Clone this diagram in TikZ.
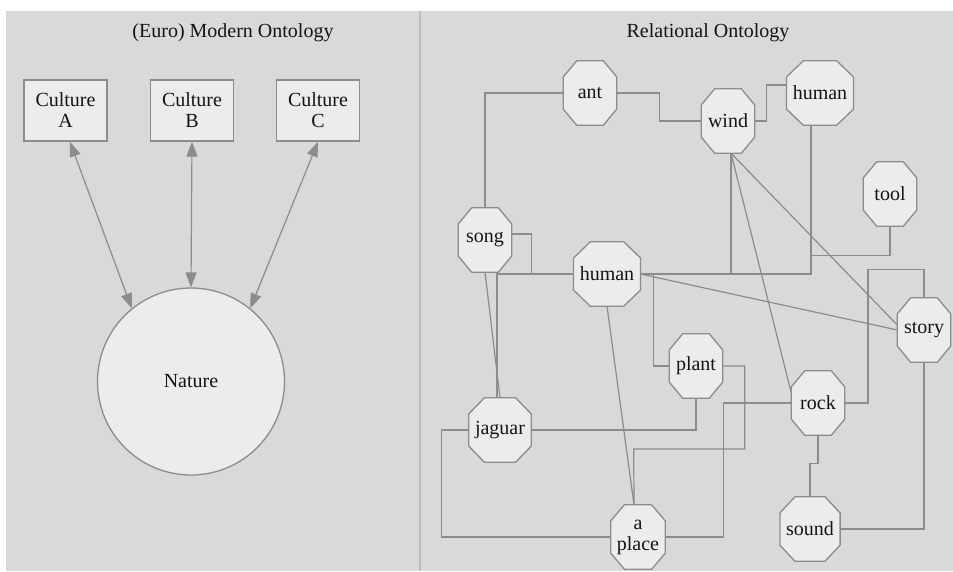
\documentclass[tikz,border=0pt]{standalone}
\usepackage{fontspec}
\setmainfont{Liberation Serif}
\usepackage{tikz}
\usetikzlibrary{calc,backgrounds,arrows.meta}

\definecolor{panelgray}{RGB}{217,217,217}
\definecolor{boxfill}{RGB}{236,236,236}
\definecolor{edgegray}{RGB}{140,140,140}
\definecolor{rulegray}{RGB}{188,188,188}

\tikzset{
  culture/.style={draw=edgegray, fill=boxfill, line width=1.3pt, minimum width=83, minimum height=61, align=center, inner sep=0pt},
  nature/.style={circle, draw=edgegray, fill=boxfill, line width=1.3pt, minimum size=187},
  octo/.style={minimum width=53, minimum height=64, inner xsep=6, align=center},
  octline/.style={draw=edgegray, fill=boxfill, line width=1.3pt},
  link/.style={draw=edgegray, line width=1.2pt},
  dblarrow/.style={draw=edgegray, line width=1.2pt, >={Triangle[length=15pt,width=11pt]}, <->},
}

% octagon drawn round a (bare) node
\newcommand{\octagon}[1]{%
  \path[octline] let \p1=(#1.north west), \p2=(#1.south east),
    \n1={0.25*(\x2-\x1)}, \n2={0.25*(\y1-\y2)} in
    (\x1+\n1,\y1) -- (\x2-\n1,\y1) -- (\x2,\y1-\n2) -- (\x2,\y2+\n2)
    -- (\x2-\n1,\y2) -- (\x1+\n1,\y2) -- (\x1,\y2+\n2) -- (\x1,\y1-\n2) -- cycle;}

\begin{document}
\begin{tikzpicture}[x=1pt, y=-1pt, font=\fontsize{20}{21}\selectfont, text=black!92]
        \useasboundingbox (0,0) rectangle (953,571);

        % Titles
        \node (lefttitle) at (233,33) {(Euro) Modern Ontology};
        \node (righttitle) at (708,33) {Relational Ontology};

        % Modern ontology: cultures and nature
        \node[culture] (cultA) at (65.5,110.5) {Culture\\A};
        \node[culture] (cultB) at (192,110.5) {Culture\\B};
        \node[culture] (cultC) at (318,110.5) {Culture\\C};
        \node[nature] (nature) at (191,381.5) {Nature};

        \draw[dblarrow] (cultA.-82) -- (nature.129);
        \draw[dblarrow] (cultB.south) -- (nature.north);
        \draw[dblarrow] (cultC.south) -- (nature.51);

        % Relational ontology: the nodes
        \node[octo] (ant) at (590,93) {ant};
        \node[octo] (wind) at (728,121) {wind};
        \node[octo] (humtop) at (820,93) {human};
        \node[octo] (tool) at (890,194) {tool};
        \node[octo] (song) at (485,240) {song};
        \node[octo] (hummid) at (607,274) {human};
        \node[octo] (story) at (924,330) {story};
        \node[octo] (plant) at (696,366) {plant};
        \node[octo] (rock) at (818,403) {rock};
        \node[octo] (jaguar) at (500,430) {jaguar};
        \node[octo] (place) at (638,537) {a\\place};
        \node[octo] (sound) at (810,529) {sound};

        \begin{scope}[on background layer]
            % Panels
            \fill[panelgray] (6,11) rectangle (953,571);
            \draw[rulegray, line width=2pt] (420,11) -- (420,571);

            % Relations
            \draw[link] (song.north) |- (ant.west);
            \draw[link] (ant.east) -- ++(43,0) |- (wind.west);
            \draw[link] (wind.east) -- ++(12,0) |- ($(humtop.west)+(0,-8)$);
            \draw[link] (hummid.east) -| ($(humtop.south)+(-9,0)$);
            \draw[link] ($(wind.south)+(3,0)$) |- (hummid.east);
            \draw[link] (tool.south) |- ++(-79,29) |- (hummid.east);
            \draw[link] (hummid.east) -- ++(13,0) |- (plant.west);
            \draw[link] (hummid.east) -- (story.west);
            \draw[link] ($(song.east)+(0,-6)$) -- ++(20,0) |- (hummid.west);
            \draw[link] ($(jaguar.north)+(-3,0)$) |- (hummid.west);
            \draw[link] (song.south) -- (jaguar.north);
            \draw[link] (hummid.south) -- ($(place.north)+(-4,0)$);
            \draw[link] ($(wind.south)+(3,0)$) -- ($(rock.west)+(0,-10)$);
            \draw[link] ($(wind.south)+(3,0)$) -- ($(story.west)+(0,-5)$);
            \draw[link] (story.north) |- ++(-56,-28) |- (rock.east);
            \draw[link] (story.south) |- (sound.east);
            \draw[link] (rock.south) -- ++(0,28) -| (sound.north);
            \draw[link] (rock.west) -- ++(-68,0) |- (place.east);
            \draw[link] (plant.east) -- ++(22,0) |- ++(-111,83) -- ($(place.north)+(-4,0)$);
            \draw[link] (plant.south) |- (jaguar.east);
            \draw[link] (jaguar.west) -- ++(-27,0) |- (place.west);

            % Octagons over the line ends
            \foreach \nm in {ant,wind,humtop,tool,song,hummid,story,plant,rock,jaguar,place,sound}
                \octagon{\nm};
        \end{scope}

\end{tikzpicture}
\end{document}
